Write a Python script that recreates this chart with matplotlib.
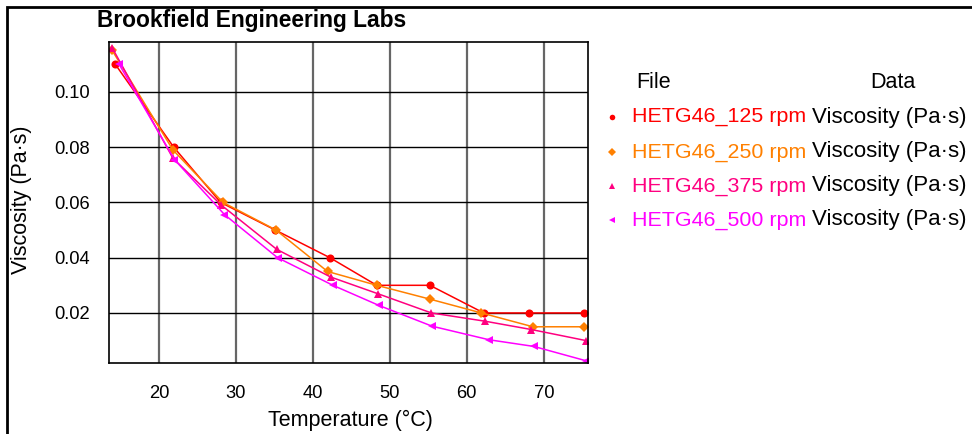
import matplotlib
matplotlib.use("Agg")
import matplotlib.pyplot as plt
from matplotlib.patches import Rectangle

plt.rcParams['font.family'] = ['Liberation Sans', 'DejaVu Sans']

# data
series_names = ["HETG46_125 rpm", "HETG46_250 rpm", "HETG46_375 rpm", "HETG46_500 rpm"]
temp_125 = [14.3, 21.9, 28.0, 35.1, 42.2, 48.3, 55.2, 62.2, 68.1, 75.2]
visc_125 = [0.110, 0.080, 0.060, 0.050, 0.040, 0.030, 0.030, 0.020, 0.020, 0.020]
temp_250 = [13.9, 21.8, 28.3, 35.2, 41.9, 48.3, 55.2, 61.9, 68.6, 75.2]
visc_250 = [0.115, 0.079, 0.060, 0.050, 0.035, 0.030, 0.025, 0.020, 0.015, 0.015]
temp_375 = [13.9, 21.8, 28.1, 35.3, 42.3, 48.4, 55.4, 62.4, 68.4, 75.5]
visc_375 = [0.116, 0.076, 0.059, 0.043, 0.033, 0.027, 0.020, 0.017, 0.014, 0.010]
temp_500 = [14.8, 22.0, 28.5, 35.4, 42.6, 48.6, 55.5, 62.9, 68.7, 75.5]
visc_500 = [0.110, 0.0755, 0.0556, 0.040, 0.030, 0.0227, 0.0152, 0.0103, 0.0079, 0.0027]
x_ticks = [20, 30, 40, 50, 60, 70]
y_ticks = [0.02, 0.04, 0.06, 0.08, 0.10]

temps = [temp_125, temp_250, temp_375, temp_500]
viscs = [visc_125, visc_250, visc_375, visc_500]
colors = ["#ff0000", "#ff8000", "#ff0080", "#ff00ff"]
markers = ["o", "D", "^", "<"]
msizes = [5.8, 5, 5.8, 5.8]

W, H = 972, 434
fig = plt.figure(figsize=(W / 100, H / 100), dpi=100)

def px(x, y):                       # pixel coords (from top-left) -> figure fraction
    return x / W, 1 - y / H

ax = fig.add_axes([109 / W, 1 - 363 / H, (588 - 109) / W, (363 - 42) / H])

for t, v, c, m, ms in zip(temps, viscs, colors, markers, msizes):
    ax.plot(t, v, color=c, marker=m, markersize=ms, linewidth=1.1, markeredgewidth=0)

ax.set_xlim(13.5, 75.75)
ax.set_ylim(0.0019, 0.118)
ax.set_xticks(x_ticks)
ax.set_yticks(y_ticks)
ax.set_yticklabels(["%.2f" % v for v in y_ticks])
ax.tick_params(length=0, labelsize=13.2, pad=14)
ax.tick_params(axis='x', pad=16)
ax.xaxis.grid(True, color="#666666", linewidth=1.6)
ax.yaxis.grid(True, color="#000000", linewidth=1.0)
ax.set_axisbelow(True)
for s in ax.spines.values():
    s.set_linewidth(1.2)

fig.text(*px(350, 420), "Temperature (°C)", fontsize=15.5, ha="center", va="center")
fig.text(*px(22, 200), "Viscosity (Pa·s)", fontsize=15.5, ha="center", va="center", rotation=90)
fig.text(*px(97, 21), "Brookfield Engineering Labs", fontsize=16.4, fontweight="bold",
         ha="left", va="center")

# frame around figure (only top and left visible in the reference)
fig.patches.append(Rectangle((7 / W, -0.1), 1.2, 1 - 7 / H + 0.1, transform=fig.transFigure,
                             fill=False, edgecolor="black", linewidth=2))

# legend table
fig.text(*px(636, 82), "File", fontsize=15.5, ha="left", va="center")
fig.text(*px(870, 82), "Data", fontsize=15.5, ha="left", va="center")
row_y = [117, 152, 186, 220]
for name, c, m, y in zip(series_names, colors, markers, row_y):
    fig.add_artist(plt.Line2D([612 / W], [1 - y / H], marker=m, color=c, markersize=4,
                              markeredgewidth=0, transform=fig.transFigure))
    fig.text(*px(632, y), name, color=c, fontsize=15.4, ha="left", va="center")
    fig.text(*px(812, y), "Viscosity (Pa·s)", color="black", fontsize=16.0, ha="left", va="center")

fig.savefig("out.png", dpi=100)
